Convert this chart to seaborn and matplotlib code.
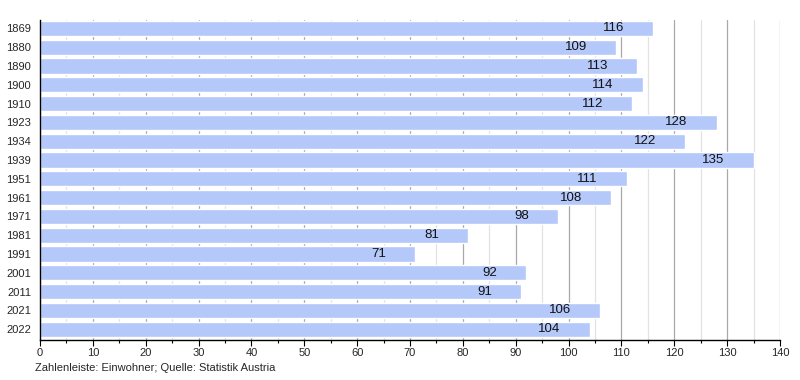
import pandas as pd
import matplotlib.pyplot as plt
import seaborn as sns
from matplotlib.ticker import MultipleLocator

years = ["1869", "1880", "1890", "1900", "1910", "1923", "1934", "1939", "1951",
         "1961", "1971", "1981", "1991", "2001", "2011", "2021", "2022"]
population = [116, 109, 113, 114, 112, 128, 122, 135, 111, 108, 98, 81, 71, 92, 91, 106, 104]

df = pd.DataFrame({"Jahr": years, "Einwohner": population})

sns.set_style("white")
plt.rcParams['font.family'] = ['Liberation Sans', 'DejaVu Sans']

fig = plt.figure(figsize=(8, 3.8), dpi=100)
ax = fig.add_axes([0.05, 0.105, 0.925, 0.842])

# gridlines behind the bars
ax.set_axisbelow(True)
ax.xaxis.set_major_locator(MultipleLocator(10))
ax.xaxis.set_minor_locator(MultipleLocator(5))
ax.grid(axis='x', which='major', color='#a8a8a8', linewidth=0.9)
ax.grid(axis='x', which='minor', color='#e2e2e2', linewidth=0.9)

sns.barplot(data=df, x="Einwohner", y="Jahr", orient='h', color='#b4c8fa',
            saturation=1, width=0.81, ax=ax)

for i, v in enumerate(population):
    ax.text(v - 5.5, i, str(v), ha='right', va='center', fontsize=9.5, color='#111111')

ax.set_xlim(0, 140)
ax.set_ylim(16.58, -0.44)
ax.set_xlabel('')
ax.set_ylabel('')
for s in ['top', 'right']:
    ax.spines[s].set_visible(False)
for s in ['left', 'bottom']:
    ax.spines[s].set_color('black')
    ax.spines[s].set_linewidth(1.0)
ax.tick_params(axis='x', which='major', direction='out', length=4, width=0.8,
               labelsize=8, bottom=True, color='black', pad=2)
ax.tick_params(axis='x', which='minor', direction='out', length=2, width=0.8,
               bottom=True, color='black')
ax.tick_params(axis='y', labelsize=8, left=False, pad=3)

fig.text(0.044, 0.018, "Zahlenleiste: Einwohner; Quelle: Statistik Austria",
         fontsize=8, ha='left', va='bottom')

fig.savefig("out.png", dpi=100)
